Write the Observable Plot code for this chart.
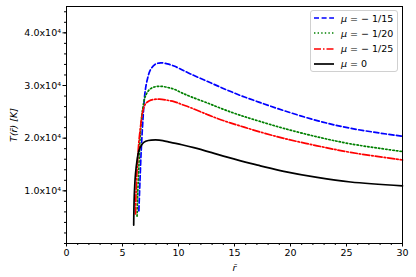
<!DOCTYPE html>
<html>
<head>
<meta charset="utf-8">
<script src="https://cdn.jsdelivr.net/npm/d3@7"></script>
<script src="https://cdn.jsdelivr.net/npm/@observablehq/plot@0.6"></script>
<style>
  html, body { margin: 0; padding: 0; background: #fff; }
  #wrap { position: relative; width: 416px; height: 277px; font-family: "DejaVu Sans", sans-serif; }
  #legend { position: absolute; left: 310px; top: 10px; width: 86px; height: 60px;
            border: 1px solid #d0d0d0; border-radius: 3px; background: rgba(255,255,255,0.8);
            font-size: 9.5px; color: #000; }
  .row { position: absolute; left: 3px; height: 12px; display: flex; align-items: center; }
  .row svg { width: 20px; height: 6px; margin-right: 7px; }
</style>
</head>
<body>
<div id="wrap"><div id="legend"></div></div>
<script>
// μ = -1/15
const rBlue = [6.46, 6.5, 6.55, 6.67, 6.84, 7.0, 7.2, 7.5, 7.9, 8.4, 9.0, 9.6, 10.3, 11.07, 12.56, 14.05, 15.54, 17.17, 19.4, 22.38, 25.36, 30];
const tBlue = [6200, 8500, 11300, 17600, 24000, 28500, 31000, 33000, 34000, 34300, 34100, 33700, 33000, 32200, 30800, 29400, 28100, 26850, 25240, 23330, 21870, 20350];
// μ = -1/20
const rGreen = [6.3, 6.35, 6.45, 6.6, 6.8, 7.05, 7.4, 7.8, 8.4, 9.0, 9.6, 10.3, 11.07, 12.56, 14.05, 15.54, 17.17, 19.4, 22.38, 25.36, 30];
const tGreen = [5200, 9000, 14000, 21000, 25500, 28000, 29200, 29700, 29850, 29650, 29300, 28600, 27900, 26700, 25450, 24330, 23250, 21860, 20250, 18920, 17450];
// μ = -1/25
const rRed = [6.16, 6.2, 6.3, 6.45, 6.6, 6.8, 7.05, 7.4, 7.8, 8.3, 9.0, 9.6, 10.3, 11.07, 12.56, 14.05, 15.54, 17.17, 19.4, 22.38, 25.36, 30];
const tRed = [5600, 9000, 14000, 19000, 22000, 25000, 26500, 27100, 27350, 27400, 27200, 26950, 26400, 25800, 24500, 23300, 22300, 21250, 19960, 18550, 17300, 15850];
// μ = 0
const rBlack = [6.0, 6.05, 6.16, 6.3, 6.46, 6.7, 6.9, 7.3, 7.95, 8.6, 9.3, 10.3, 11.37, 12.9, 14.35, 16.43, 17.3, 19.4, 22.38, 25.36, 30];
const tBlack = [3500, 9000, 13200, 15800, 17600, 18700, 19200, 19550, 19660, 19550, 19200, 18750, 18200, 17300, 16400, 15200, 14750, 13700, 12550, 11680, 10950];

const seriesLabels = ["\u2212 1/15", "\u2212 1/20", "\u2212 1/25", "0"];
const xTicks = [0, 5, 10, 15, 20, 25, 30];
const yTicks = [10000, 20000, 30000, 40000];

const styles = [
  {color: "#0000ff", dash: "5,2.6"},
  {color: "#008000", dash: "1.4,2.2"},
  {color: "#ff0000", dash: "7,2,1.5,2"},
  {color: "#000000", dash: null}
];
const rs = [rBlue, rGreen, rRed, rBlack];
const ts = [tBlue, tGreen, tRed, tBlack];

const lines = rs.map((r, i) => Plot.line(r.map((x, j) => ({x, y: ts[i][j]})), {
  x: "x", y: "y", stroke: styles[i].color, strokeWidth: 1.7,
  strokeDasharray: styles[i].dash, curve: "catmull-rom"
}));

const chart = Plot.plot({
  width: 416, height: 277,
  marginLeft: 66, marginRight: 14, marginTop: 6, marginBottom: 34,
  style: {fontFamily: "DejaVu Sans, sans-serif", fontSize: "9.5px", color: "#000", background: "#fff"},
  x: {domain: [0, 30]},
  y: {domain: [0, 45000]},
  marks: [
    Plot.axisX({ticks: d3.range(0, 31, 1), tickSize: 2, tickFormat: () => "", label: null}),
    Plot.axisX({ticks: xTicks, tickSize: 3.5, tickPadding: 2, tickFormat: d => String(d),
                label: "r\u0304", labelAnchor: "center", labelArrow: "none", labelOffset: 27}),
    Plot.axisY({ticks: d3.range(0, 45001, 2000), tickSize: 2, tickFormat: () => "", label: null}),
    Plot.axisY({ticks: yTicks, tickSize: 3.5, tickPadding: 2,
                tickFormat: d => (d / 10000).toFixed(1) + "x10\u2074",
                label: "T(r\u0304) [K]", labelAnchor: "center", labelArrow: "none", labelOffset: 56}),
    ...lines,
    Plot.frame({stroke: "#000", strokeWidth: 1})
  ]
});
document.getElementById("wrap").prepend(chart);
d3.select(chart).selectAll('g[aria-label="y-axis label"] text, g[aria-label="x-axis label"] text')
  .style("font-style", "italic");

const legend = document.getElementById("legend");
styles.forEach((s, i) => {
  const row = document.createElement("div");
  row.className = "row";
  row.style.top = (1 + i * 15.3) + "px";
  row.innerHTML = `<svg viewBox="0 0 20 6"><line x1="0" y1="3" x2="20" y2="3" stroke="${s.color}" stroke-width="1.7" ${s.dash ? `stroke-dasharray="${s.dash}"` : ""}/></svg><span><i>\u03bc</i> = ${seriesLabels[i]}</span>`;
  legend.appendChild(row);
});
</script>
</body>
</html>
